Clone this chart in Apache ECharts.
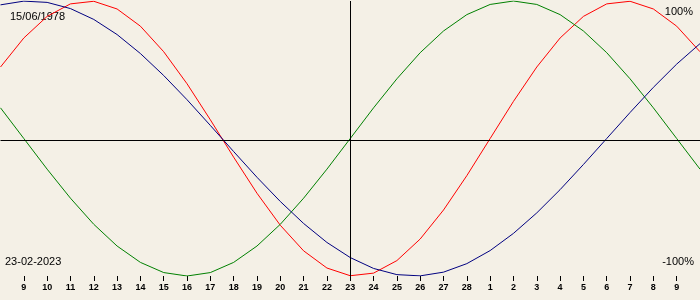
<!DOCTYPE html>
<html>
<head>
<meta charset="utf-8">
<script src="https://cdn.jsdelivr.net/npm/echarts@6/dist/echarts.min.js"></script>
<style>
html,body{margin:0;padding:0;background:#f4f0e6;}
#chart{width:700px;height:300px;}
</style>
</head>
<body>
<div id="chart"></div>
<script>
// Days from 8 Feb 2023 to 10 Mar 2023 (category index 0..30)
const tickLabels = ['', '9','10','11','12','13','14','15','16','17','18','19','20','21','22','23','24','25','26','27','28','1','2','3','4','5','6','7','8','9',''];
// Biorhythm values (-1..1)
const physical = [0.520,0.731,0.888,0.979,0.998,0.942,0.817,0.631,0.398,0.136,-0.136,-0.398,-0.631,-0.817,-0.942,-0.998,-0.979,-0.888,-0.731,-0.520,-0.270,0,0.270,0.520,0.731,0.888,0.979,0.998,0.942,0.817,0.631];
const emotional = [0.223,0,-0.223,-0.434,-0.624,-0.782,-0.901,-0.975,-1,-0.975,-0.901,-0.782,-0.624,-0.434,-0.223,0,0.223,0.434,0.624,0.782,0.901,0.975,1,0.975,0.901,0.782,0.624,0.434,0.223,0,-0.223];
const intellectual = [0.972,0.999,0.990,0.945,0.866,0.756,0.618,0.458,0.282,0.095,-0.095,-0.282,-0.458,-0.618,-0.756,-0.866,-0.945,-0.990,-0.999,-0.972,-0.910,-0.815,-0.690,-0.541,-0.372,-0.189,0,0.189,0.372,0.541,0.690];
const birthDate = '15/06/1978';
const targetDate = '23-02-2023';
const targetIndex = 15;

const chart = echarts.init(document.getElementById('chart'), null, {renderer:'canvas'});
const lineSeries = (name, data, color) => ({
  name, type:'line', data, symbol:'none', smooth:false, animation:false,
  lineStyle:{color, width:1}, silent:true
});
const s1 = lineSeries('Physical', physical, '#ff0000');
s1.markLine = {
  silent:true, symbol:'none', animation:false, label:{show:false},
  lineStyle:{color:'#000', width:1, type:'solid'},
  data:[{xAxis:targetIndex},{yAxis:-0.0145}]
};
chart.setOption({
  backgroundColor:'#f4f0e6',
  animation:false,
  grid:{left:0.5, width:700, top:1, height:275},
  xAxis:{
    type:'category', boundaryGap:false, position:'bottom',
    data: tickLabels.map((t,i)=>i),
    axisLine:{show:false, onZero:false},
    axisTick:{show:true, length:5, lineStyle:{color:'#000', width:1},
      interval:(i)=> i>0 && i<tickLabels.length-1},
    axisLabel:{show:true, margin:7, color:'#000', fontSize:9, fontWeight:'bold',
      fontFamily:'Liberation Sans', interval:(i)=> i>0 && i<tickLabels.length-1,
      formatter:(v,i)=>tickLabels[i]},
    splitLine:{show:false}
  },
  yAxis:{type:'value', min:-1, max:1, show:false, splitLine:{show:false}},
  graphic:[
    {type:'text', left:10, top:11, style:{text:birthDate, fill:'#000', font:'11px "Liberation Sans"'}},
    {type:'text', right:7, top:6, style:{text:'100%', fill:'#000', font:'11px "Liberation Sans"'}},
    {type:'text', left:5, top:256, style:{text:targetDate, fill:'#000', font:'11px "Liberation Sans"'}},
    {type:'text', right:6, top:256, style:{text:'-100%', fill:'#000', font:'11px "Liberation Sans"'}}
  ],
  series:[
    s1,
    lineSeries('Emotional', emotional, '#008000'),
    lineSeries('Intellectual', intellectual, '#000080')
  ]
});
</script>
</body>
</html>
